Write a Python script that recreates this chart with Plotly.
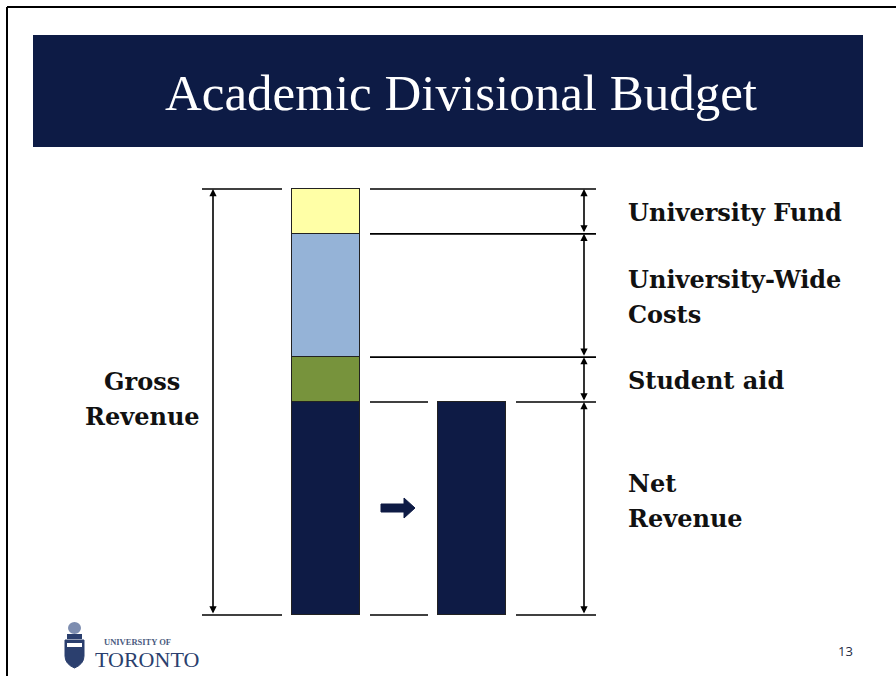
import plotly.graph_objects as go

# ---- data ----
segments = ["Net Revenue", "Student aid", "University-Wide Costs", "University Fund"]
values = [4.75, 1.0, 2.75, 1.0]
seg_colors = ["#0E1B45", "#77933C", "#95B3D7", "#FFFFA6"]
seg_labels = ["Net<br>Revenue", "Student aid", "University-Wide<br>Costs", "University Fund"]
bar_x = ["gross", "net"]
title_text = "Academic Divisional Budget"
gross_label = "Gross<br>Revenue"
page_no = "13"

W, H = 896, 676
BASE_PX, TOP_PX = 615, 189          # pixel rows of y=0 and y=total
total = sum(values)
ppu = (BASE_PX - TOP_PX) / total
ymin = -(H - BASE_PX) / ppu
ymax = total + TOP_PX / ppu

XPOS = {"gross": 326, "net": 472}   # bar centres (x axis spans window pixels)
BW = 68
LINE_GAP = 35

def py(p):  # pixel row -> paper y
    return 1 - p / H

fig = go.Figure()

# stacked gross bar + net bar
for i, (name, v, c) in enumerate(zip(segments, values, seg_colors)):
    xs = [XPOS["gross"]] + ([XPOS["net"]] if i == 0 else [])
    fig.add_trace(go.Bar(
        x=xs, y=[v] * len(xs), width=BW, name=name,
        marker=dict(color=c, line=dict(color="#222222", width=1.5)),
        hoverinfo="name+y", showlegend=False))

# boundaries from cumulative sums
bounds = [0.0]
for v in values:
    bounds.append(bounds[-1] + v)

shapes = []
line_style = dict(color="black", width=1.6)
# left dimension ticks
for yv in (bounds[0], bounds[-1]):
    shapes.append(dict(type="line", xref="x", yref="y", x0=202, x1=282, y0=yv, y1=yv, line=line_style))
# right dimension ticks
for k, yv in enumerate(bounds):
    if k <= 1:
        shapes.append(dict(type="line", xref="x", yref="y", x0=370, x1=428, y0=yv, y1=yv, line=line_style))
        shapes.append(dict(type="line", xref="x", yref="y", x0=516, x1=596, y0=yv, y1=yv, line=line_style))
    else:
        shapes.append(dict(type="line", xref="x", yref="y", x0=370, x1=596, y0=yv, y1=yv, line=line_style))

# block arrow between bars
ay = 508
arrow_path = (f"M381,{py(ay-4)} L404,{py(ay-4)} L404,{py(ay-10)} L415,{py(ay)} "
              f"L404,{py(ay+10)} L404,{py(ay+4)} L381,{py(ay+4)} Z")
shapes.append(dict(type="path", xref="x", yref="paper", path=arrow_path,
                   fillcolor="#0E1B45", line=dict(color="#0E1B45", width=1)))

# title banner
shapes.append(dict(type="rect", xref="x", yref="paper", x0=33, x1=863, y0=py(147), y1=py(35),
                   fillcolor="#0D1B45", line=dict(color="#0D1B45", width=0), layer="below"))
# slide border
shapes.append(dict(type="line", xref="x", yref="paper", x0=7, x1=7, y0=py(7), y1=0,
                   line=dict(color="black", width=2)))
shapes.append(dict(type="line", xref="x", yref="paper", x0=7, x1=W, y0=py(7), y1=py(7),
                   line=dict(color="black", width=2)))

# logo crest (simplified)
crest = (f"M65,{py(640)} L84,{py(640)} L84,{py(656)} Q84,{py(664)} 74.5,{py(668)} "
         f"Q65,{py(664)} 65,{py(656)} Z")
shapes.append(dict(type="path", xref="x", yref="paper", path=crest,
                   fillcolor="#2B3F6E", line=dict(color="#2B3F6E", width=1)))
shapes.append(dict(type="path", xref="x", yref="paper",
                   path=f"M67,{py(643)} L82,{py(643)} L82,{py(647)} L67,{py(647)} Z",
                   fillcolor="white", line=dict(width=0)))
shapes.append(dict(type="circle", xref="x", yref="paper", x0=68, x1=81, y0=py(634), y1=py(622),
                   fillcolor="#7D8DB0", line=dict(width=0)))
shapes.append(dict(type="rect", xref="x", yref="paper", x0=67, x1=82, y0=py(639), y1=py(634),
                   fillcolor="#2B3F6E", line=dict(width=0)))

annotations = []
arrow_kw = dict(showarrow=True, text="", arrowhead=2, startarrowhead=2, arrowside="end+start",
                arrowsize=0.9, startarrowsize=0.9, arrowwidth=1.6, arrowcolor="black",
                xref="x", yref="y", axref="x", ayref="y")
# left double arrow (gross revenue)
annotations.append(dict(x=213, y=bounds[-1], ax=213, ay=bounds[0], **arrow_kw))
# right double arrows per segment
for k in range(len(values)):
    annotations.append(dict(x=584, y=bounds[k + 1], ax=584, ay=bounds[k], **arrow_kw))

label_font = dict(family="DejaVu Serif", size=24, color="#111111")

def add_label(text, x, yv, xanchor, base_shift):
    lines = text.split("<br>")
    n = len(lines)
    for i, ln in enumerate(lines):
        off = (i - (n - 1) / 2) * LINE_GAP
        annotations.append(dict(x=x, y=yv, xref="x", yref="y", text=f"<b>{ln}</b>",
                                showarrow=False, xanchor=xanchor, yanchor="middle",
                                font=label_font, yshift=base_shift - off))

for k, lab in enumerate(seg_labels):
    mid = (bounds[k] + bounds[k + 1]) / 2
    add_label(lab, 626, mid, "left", 8 if k == 0 else -1)
add_label(gross_label, 142, bounds[-1] / 2, "center", 3)

annotations.append(dict(x=461, y=py(93), xref="x", yref="paper", text=title_text, showarrow=False,
                        xanchor="center", yanchor="middle",
                        font=dict(family="Liberation Serif", size=51, color="white")))
annotations.append(dict(x=845, y=py(651), xref="x", yref="paper", text=page_no, showarrow=False,
                        xanchor="center", yanchor="middle",
                        font=dict(family="Open Sans", size=13, color="#1F2A44")))
annotations.append(dict(x=102, y=py(642), xref="x", yref="paper", text="<b>UNIVERSITY OF</b>",
                        showarrow=False, xanchor="left", yanchor="middle",
                        font=dict(family="Liberation Serif", size=8.5, color="#4A5A80")))
annotations.append(dict(x=93, y=py(659), xref="x", yref="paper", text="TORONTO",
                        showarrow=False, xanchor="left", yanchor="middle",
                        font=dict(family="Liberation Serif", size=22, color="#2B3F6E")))

fig.update_layout(
    width=W, height=H, margin=dict(l=0, r=0, t=0, b=0),
    paper_bgcolor="white", plot_bgcolor="white",
    barmode="stack", bargap=0,
    xaxis=dict(range=[0, W], visible=False, fixedrange=True),
    yaxis=dict(range=[ymin, ymax], visible=False, fixedrange=True),
    shapes=shapes, annotations=annotations, showlegend=False,
)

fig.write_html("out.html", config={"displayModeBar": False},
               post_script="document.body.style.margin='0';document.body.style.overflow='hidden';")
